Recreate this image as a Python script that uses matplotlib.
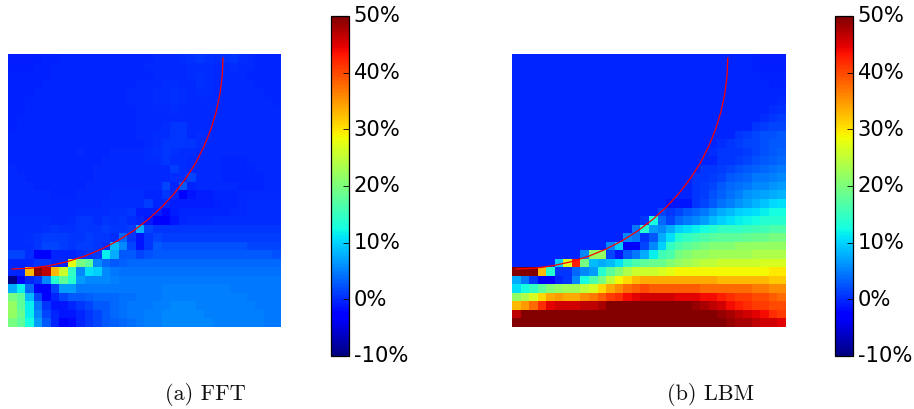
import matplotlib
matplotlib.use('Agg')
import matplotlib.pyplot as plt
from matplotlib.transforms import ScaledTranslation
import numpy as np

# error in percent, 32 x 32 cells, top row first
fft_err = [
    [-.5,-.5,-.5,-.5,-.2,-.2,0,0,0,0,0,0,0,0,0,0,0,.2,.2,.2,.5,.8,1,.8,.5,.8,1,.5,.2,0,0,0],
    [-.5,-.5,-.5,-.3,-.2,0,0,0,0,0,0,0,0,0,0,0,.2,.2,.2,.2,.3,.5,.5,.5,.3,.3,.5,.3,.2,0,0,0],
    [-.3,-.3,-.3,-.2,-.2,0,0,0,0,0,0,0,0,0,0,0,0,.2,.3,.3,.3,.5,.8,.5,.3,.2,.2,.2,0,0,0,0],
    [-.3,-.3,-.2,-.2,0,0,0,0,0,0,0,0,0,0,0,.2,.2,.3,.5,.5,.3,.3,.8,.5,.3,.2,.2,.2,.2,0,0,0],
    [-.2,-.2,-.2,0,0,0,0,0,0,0,0,0,0,0,.2,.2,.3,.5,.5,.8,.5,.3,.5,.5,.3,.2,.2,.2,.2,.2,0,0],
    [-.2,-.2,0,0,0,0,0,0,0,0,0,0,0,0,.2,.2,.3,.5,.5,.8,.5,.3,.3,.3,.2,.2,.2,.2,.2,.2,.2,0],
    [-.2,-.2,0,0,0,0,0,0,0,0,0,0,0,0,0,.2,.2,.3,.3,.5,.3,.2,.2,.2,.2,.2,.2,.2,.2,.2,.2,.2],
    [-.2,0,0,0,0,0,0,0,0,0,0,0,0,0,0,.2,.2,.2,.2,.3,.3,.2,.2,.2,.2,.2,.2,.2,.2,.2,.2,.2],
    [-.2,0,0,0,0,0,0,0,0,0,0,0,0,0,0,.2,.2,.2,.5,1,1,.3,.3,.2,.2,.2,.2,.2,.2,.2,.2,.2],
    [0,0,0,0,0,0,0,0,0,0,0,0,0,0,0,.2,.2,.5,.5,1,1,.3,.5,.3,.2,.2,.2,.2,.2,.2,.2,.2],
    [0,0,0,0,0,0,0,0,0,0,0,0,0,0,0,0,.2,.5,1,1,1,1,.5,.3,.2,.2,.2,.2,.2,.2,.2,.2],
    [0,0,0,0,0,0,0,0,.2,0,0,0,.2,.2,.2,.2,.5,.8,1,.8,.5,.5,.3,.3,.2,.2,.2,.2,.2,.2,.2,.2],
    [0,0,0,0,0,0,0,0,0,0,0,.2,.2,.2,.2,.2,.5,.5,1,.5,.5,.3,.3,.2,.2,0,0,0,.2,.2,.2,.2],
    [.2,0,0,0,0,0,0,0,0,0,.2,.2,.2,.2,.2,.2,.3,.3,.3,1.5,.5,.3,.2,.2,.2,0,0,0,0,.2,.2,.2],
    [.2,.2,0,0,0,0,0,0,0,0,.2,.2,.3,.3,.3,.3,.3,.3,.3,.5,.5,2,.3,.2,.2,0,0,0,0,0,.2,.2],
    [.3,.2,.2,0,0,0,0,0,0,.2,.2,.3,.3,.3,.3,.3,.3,.3,2,0,3,0,.2,.2,.2,.2,.2,0,0,0,.2,.2],
    [.3,.3,.2,.2,.2,0,0,0,.2,.2,.3,.3,.5,.5,.5,.5,0,0,1,0,-2,-1,-.5,-.5,0,0,0,.2,.2,.2,.2,.2],
    [.3,.3,.3,.3,.2,.2,.2,.2,.3,.3,.3,.5,.5,.5,.5,.5,1.5,0,0,-.5,-.5,-.5,-.5,-.5,-.3,0,0,.3,.5,.5,.5,.5],
    [.3,.3,.3,.3,.3,.3,.3,.3,.5,.5,.5,.5,.8,.8,1,-.5,-.5,-.5,-1.5,-.5,0,0,0,0,0,0,.2,.3,.5,.5,.5,.5],
    [.5,.5,.5,.5,.5,.3,.3,.5,1,1,.5,1,.8,1,.5,0,-1,-2.5,-2.5,-1,0,.2,.3,.3,.5,.5,.5,.5,.5,.5,.5,.5],
    [.5,.5,.5,.5,.8,1,.8,.8,1,1,1,1.5,1,1,1.5,8,2,1,1,1,1,1,1,1,1,1,1,1,1,1,1,1],
    [.5,.5,.8,1,1.5,1.5,1.5,1,1,1.5,1,1,.5,4,1,-1,1,2,1.5,1.5,1.5,1.5,1.5,1.5,1.5,1.5,1.5,1.5,1.5,1.5,1.5,1.5],
    [.5,.5,.5,1,2,2,1.5,1,1.5,1.5,1,.5,9,6,2,-1,1,3,2.5,2.5,2.5,2.5,2.5,2.5,2.5,2.5,2.5,2.5,2,2,2,2],
    [2,2,.5,-2,-2,0,0,0,.5,1,1.5,12,8,3,3,2,2.5,3,3,3,3,3,3,3,3,3,3,3,3,3,3,2.5],
    [0,0,0,1,1,0,0,28,20,18,6,4,3,3.5,4,4,4,4,4,4,4,4,4,4,4,4,4,4,4,4,4,4],
    [0,0,33,49.5,47,33,26,15,6,11,10,6,5,4.5,4.5,4.5,4.5,4.5,4.5,4.5,4.5,4.5,4.5,4.5,4.5,4.5,4.5,4.5,4.5,4.5,4.5,4.5],
    [-9,-2,0,1,6,14,18,14,7,6,6,6,5.5,5,5,5,5,5,5,5,5,5,5,5,5,5,5,5,5,5,5,5],
    [8,12,4,-3,-2,2,7,7,5,5,5,5,5,5,5,5,5,5,5.5,5.5,5.5,5.5,5.5,5.5,5.5,5.5,5,5,5,5,5,5],
    [20,18,9,2,-2,0,2,3,3,3.5,4,4,4,4.5,4.5,5,5,5,5.5,5.5,5.5,5.5,5.5,5.5,5.5,5.5,5.5,5.5,5,5,5,5],
    [22,18,12,5,1,-1,-1,0,1,2,3,3,4,4.5,5,5,5,5.5,5.5,6,6,6,5.5,5.5,5.5,5.5,5.5,5.5,5.5,5,5,5],
    [22,19,12,6,2,0,-1,-1,0,1,2,3,4,4.5,5,5,5.5,5.5,6,6,6,6,6,5.5,5.5,5.5,5.5,5.5,5.5,5.5,5,5],
    [20,18,13,7,3,0,-2,-1.5,0,1,2,3,3.5,4,4.5,5,5.5,5.5,6,6,6,6,6,6,5.5,5.5,5.5,5.5,5.5,5.5,5,5],
]
lbm_err = [
    [0,0,0,0,0,0,0,0,0,0,0,0,0,0,0,0,0,0,0,0,0,0,0,0,0,0,0,0,-.3,-.5,-.5,-.5],
    [0,0,0,0,0,0,0,0,0,0,0,0,0,0,0,0,0,0,0,0,0,0,0,0,0,0,0,0,-.2,-.5,-.5,-.5],
    [0,0,0,0,0,0,0,0,0,0,0,0,0,0,0,0,0,0,0,0,0,0,0,0,0,0,0,0,0,-.3,-.3,-.3],
    [0,0,0,0,0,0,0,0,0,0,0,0,0,0,0,0,0,0,0,0,0,0,0,0,0,0,0,0,0,0,-.2,-.2],
    [0,0,0,0,0,0,0,0,0,0,0,0,0,0,0,0,0,0,0,0,0,0,0,0,0,0,0,0,0,0,0,0],
    [0,0,0,0,0,0,0,0,0,0,0,0,0,0,0,0,0,0,0,0,0,0,0,0,0,0,0,0,0,0,0,.3],
    [0,0,0,0,0,0,0,0,0,0,0,0,0,0,0,0,0,0,0,0,0,0,0,0,0,0,0,0,0,0,.5,.8],
    [0,0,0,0,0,0,0,0,0,0,0,0,0,0,0,0,0,0,0,0,0,0,0,0,0,0,0,0,0,.5,1,1.5],
    [0,0,0,0,0,0,0,0,0,0,0,0,0,0,0,0,0,0,0,0,0,0,0,0,0,0,0,0,1,1.5,2,2],
    [0,0,0,0,0,0,0,0,0,0,0,0,0,0,0,0,0,0,0,0,0,0,0,0,0,0,1,1.5,2,2.5,2.5,3],
    [0,0,0,0,0,0,0,0,0,0,0,0,0,0,0,0,0,0,0,0,0,0,0,0,.5,1,1.5,2,2,2.5,3,3],
    [0,0,0,0,0,0,0,0,0,0,0,0,0,0,0,0,0,0,0,0,0,0,0,.5,1,1,1,1.5,2,2.5,3,3.5],
    [0,0,0,0,0,0,0,0,0,0,0,0,0,0,0,0,0,0,0,0,0,0,0,0,1,1,1.5,2,2.5,3,3.5,4],
    [0,0,0,0,0,0,0,0,0,0,0,0,0,0,0,0,0,0,0,0,0,0,1,1,1.5,2,2.5,3,3.5,4,4.5,5],
    [0,0,0,0,0,0,0,0,0,0,0,0,0,0,0,0,0,0,0,0,0,1,1,1.5,2,3,3.5,4,5,5,5.5,6],
    [0,0,0,0,0,0,0,0,0,0,0,0,0,0,0,0,0,0,0,0,0,1,1.5,2,3,4,4.5,5,6,6,6.5,7],
    [0,0,0,0,0,0,0,0,0,0,0,0,0,0,0,0,0,0,0,0,0,1,1.5,2.5,3.5,4.5,5.5,6.5,7,7.5,8,8.5],
    [0,0,0,0,0,0,0,0,0,0,0,0,0,0,0,0,0,0,-1,-1,-1,1,2,3,4.5,5.5,6.5,7.5,8.5,9.5,10.5,11],
    [0,0,0,0,0,0,0,0,0,0,0,0,0,0,0,0,0,2,1,2,3,4,5,6.5,8,9,10,10.5,11,12,13,13],
    [0,0,0,0,0,0,0,0,0,0,0,0,0,0,0,1,13,4,2,4,5,6,7,9,10,11,12,12.5,13,14,14,14],
    [0,0,0,0,0,0,0,0,0,0,0,0,0,0,5,14,7,6,8,10,11,12,13,14,15,15,15,15.5,16,16,17,17],
    [0,0,0,0,0,0,0,0,0,0,0,0,0,6,5,1,3,8,11,14,15,16,17,17.5,18,18,18,18.5,19,19,20,20],
    [0,0,0,0,0,0,0,0,0,0,0,6,10,-2,-2,2,6,10,15,17,18,19,20,21,21,21,22,22,22,22,22,22],
    [0,0,0,0,0,0,0,0,6,22,22,2,-1,3,5,8,12,16,17,20,21,22,22,23,23,23,23,23,24,24,24,24],
    [0,0,0,0,0,10,27,43,20,9,8,9,11,15,17,18,19,19,21,22,23,24,25,25,26,26,26,26,26,27,27,27],
    [50,50,50,33,14,1,1,4,6,7,14,18,21,24,26,26,26,27,28,29,29,29,29,29,29,29,29,29,29,29,30,30],
    [8,5,1,-3,-3,0,1,6,13,17,20,25,29,31,33,34,34,34,34,34,34,34,34,34,33,33,33,33,33,33,32,32],
    [11,13,15,18,21,22,23,23,25,27,31,34,36,38,39,40,39,39,39,39,39,39,38,38,38,38,38,38,37,37,36,36],
    [22,24,27,31,34,35,34,34,36,37,39,41,42,44,45,46,46,46,46,45,45,45,44,44,43,42,41,41,40,40,39,38],
    [33,35,38,42,45,46,46,46,47,47,48,50,50,50,50,50,50,50,50,50,50,49,48,47,46,44,43,42,41,41,40,40],
    [47,50,50,50,50,50,50,50,50,50,50,50,50,50,50,50,50,50,50,50,50,50,50,50,49,48,47,46,45,44,42,41],
    [50,50,50,50,50,50,50,50,50,50,50,50,50,50,50,50,50,50,50,50,50,50,50,50,50,49,48,48,47,46,46,45],
]

# red boundary arc, read in cell units
arc_x = [.47,2.64,4.78,6.90,8.97,10.97,12.90,14.72,16.44,18.04,19.51,20.83,21.99,22.96,23.77,24.40,24.85,25.12,25.2]
arc_y = [25.20,25.11,24.82,24.35,23.70,22.87,21.87,20.71,19.39,17.92,16.32,14.60,12.78,10.85,8.85,6.78,4.66,2.52,.47]

cbar_ticks = [-10, 0, 10, 20, 30, 40, 50]
cbar_labels = ['-10%', '0%', '10%', '20%', '30%', '40%', '50%']

W, H = 914.0, 409.0

def box(x0, y0, x1, y1):
    return [x0 / W, 1 - y1 / H, (x1 - x0) / W, (y1 - y0) / H]

fig = plt.figure(figsize=(9.14, 4.09), dpi=100)

panels = [
    (fft_err, 8, 281, 331, '(a) FFT', 205),
    (lbm_err, 512, 786, 835, '(b) LBM', 711),
]
for err, left, right, cbar_left, caption, cap_x in panels:
    ax = fig.add_axes(box(left, 54, right, 327))
    # background reads a little deeper than zero
    im = ax.imshow(np.array(err) - 0.3, cmap='jet', vmin=-10, vmax=50,
                   interpolation='nearest', extent=[0, 32, 32, 0], aspect='auto')
    ax.plot(arc_x, arc_y, color='red', lw=0.9)
    ax.set_xlim(0, 32)
    ax.set_ylim(32, 0)
    ax.axis('off')

    cax = fig.add_axes(box(cbar_left, 16, cbar_left + 18, 356))
    cb = fig.colorbar(im, cax=cax, ticks=cbar_ticks)
    cb.ax.set_yticklabels(cbar_labels, fontsize=15.2, color='black')
    cb.ax.tick_params(direction='in', length=4.3, width=0.6, pad=3.5, color='black')
    cb.outline.set_linewidth(0.9)
    up = ScaledTranslation(0, 1.5 / 100, fig.dpi_scale_trans)
    for lab in cb.ax.get_yticklabels():
        lab.set_transform(lab.get_transform() + up)

    fig.text(cap_x / W, 1 - 395 / H, caption, family='cmr10', fontsize=16,
             ha='center', va='center', color='#111111')

fig.savefig('out.png', dpi=100)
